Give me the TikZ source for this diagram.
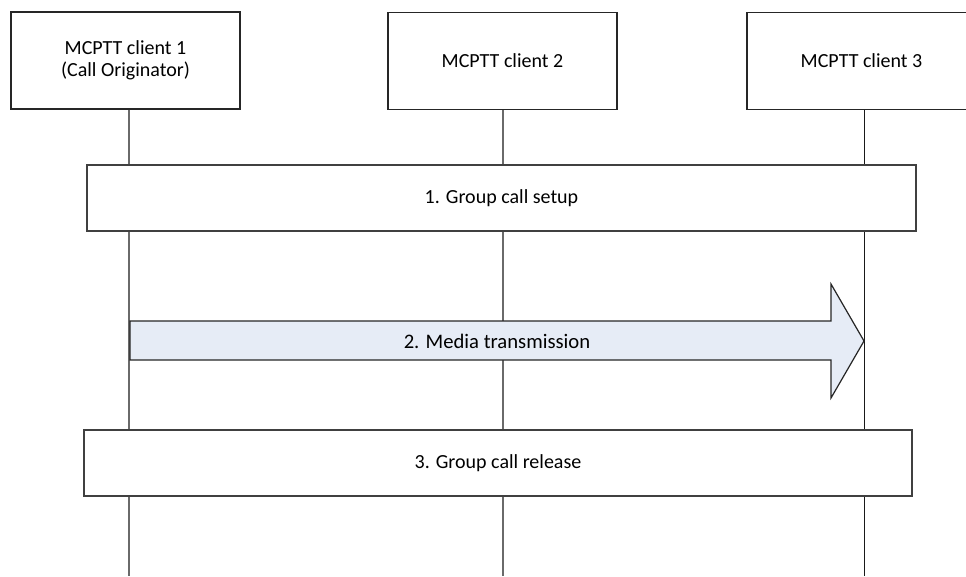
\documentclass[tikz,border=0pt]{standalone}
\usepackage{fontspec}
\setmainfont{Carlito}
\usepackage{xcolor}
\usepackage{tikz}
\usetikzlibrary{positioning}
\definecolor{mediablue}{HTML}{E6ECF6}
\definecolor{lifegray}{HTML}{6A6A6A}

\begin{document}
\begin{tikzpicture}[
  x=0.75pt,y=-0.75pt,
  font=\fontsize{15}{16.5}\selectfont,
  client/.style={draw=black!85,line width=0.9pt,fill=white,align=center,minimum width=171.75pt,minimum height=72.75pt,inner sep=2pt},
  stepbox/.style={draw=black!75,line width=0.8pt,fill=white,align=center,minimum height=49.5pt,inner sep=2pt},
  life/.style={draw=lifegray,line width=0.8pt},
  media/.style={draw=black!85,line width=0.9pt,fill=mediablue,line join=miter}
]
\clip (0,0) rectangle (966,576);
\node[client] (c1) at (125.5,60.5) {MCPTT client 1\\(Call Originator)};
\node[client] (c2) at (502.5,61) {MCPTT client 2};
\node[client] (c3) at (861.5,61) {MCPTT client 3};
\coordinate (e1) at (129,576);
\coordinate (e2) at (503,576);
\coordinate (e3) at (864,576);
\draw[life] (c1.south -| e1) -- (e1);
\draw[life] (c2.south -| e2) -- (e2);
\draw[life,draw=black!90,line width=0.65pt] (c3.south -| e3) -- (e3);
\node[stepbox,minimum width=621.75pt] (setup) at (501.5,198) {1. Group call setup};
% media transmission arrow
\coordinate (tip) at (864,341);
\filldraw[media] (130,321) -- (831,321) -- (831,284) -- (tip) -- (831,398) -- (831,360) -- (130,360) -- cycle;
\node[font=\fontsize{15.5}{17}\selectfont] (mediatxt) at (497,341) {2. Media transmission};
\node[stepbox,minimum width=621pt] (release) at (498,463) {3. Group call release};
\end{tikzpicture}
\end{document}
